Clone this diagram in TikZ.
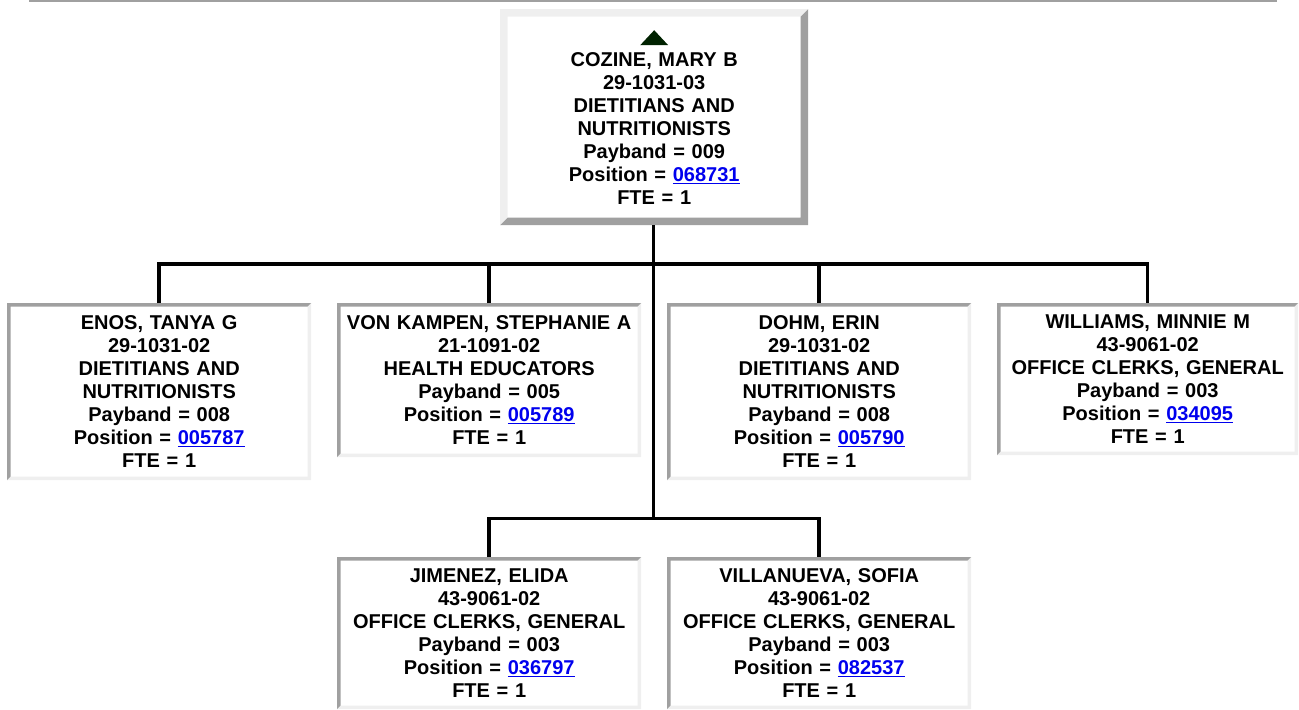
\documentclass[tikz,border=0pt]{standalone}
\usepackage{fontspec}
\setmainfont{Liberation Sans}
\usetikzlibrary{calc}
\definecolor{dk}{HTML}{A0A0A0}
\definecolor{lt}{HTML}{EFEFEF}
\definecolor{tri}{HTML}{002200}
\definecolor{lnk}{HTML}{0000EE}
\newcommand{\lk}[1]{\textcolor{lnk}{\underline{#1}}}
\tikzset{
  x=1bp, y=-1bp,
  txt/.style={font=\fontsize{20bp}{23bp}\selectfont\bfseries, align=center, inner sep=0pt, anchor=north west},
  insetbox/.style={txt, minimum width=304bp, text width=300bp, path picture={
    \def\b{3.5bp}
    \fill[dk] (path picture bounding box.south west) -- (path picture bounding box.north west) -- (path picture bounding box.north east)
      -- ([xshift=-\b,yshift=-\b]path picture bounding box.north east) -- ([xshift=\b,yshift=-\b]path picture bounding box.north west)
      -- ([xshift=\b,yshift=\b]path picture bounding box.south west) -- cycle;
    \fill[lt] (path picture bounding box.south west) -- (path picture bounding box.south east) -- (path picture bounding box.north east)
      -- ([xshift=-\b,yshift=-\b]path picture bounding box.north east) -- ([xshift=-\b,yshift=\b]path picture bounding box.south east)
      -- ([xshift=\b,yshift=\b]path picture bounding box.south west) -- cycle;
  }},
  outsetbox/.style={txt, minimum width=308bp, minimum height=216bp, text width=290bp, path picture={
    \def\b{7.5bp}
    \fill[lt] (path picture bounding box.south west) -- (path picture bounding box.north west) -- (path picture bounding box.north east)
      -- ([xshift=-\b,yshift=-\b]path picture bounding box.north east) -- ([xshift=\b,yshift=-\b]path picture bounding box.north west)
      -- ([xshift=\b,yshift=\b]path picture bounding box.south west) -- cycle;
    \fill[dk] (path picture bounding box.south west) -- (path picture bounding box.south east) -- (path picture bounding box.north east)
      -- ([xshift=-\b,yshift=-\b]path picture bounding box.north east) -- ([xshift=-\b,yshift=\b]path picture bounding box.south east)
      -- ([xshift=\b,yshift=\b]path picture bounding box.south west) -- cycle;
  }},
  conn/.style={line width=3.5bp, black, line join=miter, line cap=rect},
}
\begin{document}
\begin{tikzpicture}
\useasboundingbox (0,0) rectangle (1299,709);
\draw[dk, line width=2bp] (29,1) -- (1277,1);

\node[outsetbox] (top) at (500,9) {\tikz\fill[tri] (0bp,0bp) -- (28bp,0bp) -- (14bp,15bp) -- cycle;\\[-2bp]
COZINE, MARY B\\29-1031-03\\DIETITIANS AND\\NUTRITIONISTS\\Payband = 009\\Position = \lk{068731}\\FTE = 1};

\node[insetbox, minimum height=177bp] (enos) at (7,303) {ENOS, TANYA G\\29-1031-02\\DIETITIANS AND\\NUTRITIONISTS\\Payband = 008\\Position = \lk{005787}\\FTE = 1};
\node[insetbox, minimum height=154bp] (vonk) at (337,303) {VON KAMPEN, STEPHANIE A\\21-1091-02\\HEALTH EDUCATORS\\Payband = 005\\Position = \lk{005789}\\FTE = 1};
\node[insetbox, minimum height=177bp] (dohm) at (667,303) {DOHM, ERIN\\29-1031-02\\DIETITIANS AND\\NUTRITIONISTS\\Payband = 008\\Position = \lk{005790}\\FTE = 1};
\node[insetbox, minimum height=152bp, minimum width=301bp] (will) at (997,303) {WILLIAMS, MINNIE M\\43-9061-02\\OFFICE CLERKS, GENERAL\\Payband = 003\\Position = \lk{034095}\\FTE = 1};
\node[insetbox, minimum height=152bp] (jim) at (337,557) {JIMENEZ, ELIDA\\43-9061-02\\OFFICE CLERKS, GENERAL\\Payband = 003\\Position = \lk{036797}\\FTE = 1};
\node[insetbox, minimum height=152bp] (vill) at (667,557) {VILLANUEVA, SOFIA\\43-9061-02\\OFFICE CLERKS, GENERAL\\Payband = 003\\Position = \lk{082537}\\FTE = 1};

\coordinate (b1) at (653.5,264);
\coordinate (b2) at (653.5,518.5);
\draw[conn, line cap=butt] (top.south -| b1) -- (b2);
\draw[conn, line cap=butt] (enos.north) -- (enos.north |- b1) -- (will.north |- b1) -- (will.north);
\draw[conn, line cap=butt] (vonk.north) -- (vonk.north |- b1);
\draw[conn, line cap=butt] (dohm.north) -- (dohm.north |- b1);
\draw[conn, line cap=butt] (jim.north) -- (jim.north |- b2) -- (vill.north |- b2) -- (vill.north);
\end{tikzpicture}
\end{document}
